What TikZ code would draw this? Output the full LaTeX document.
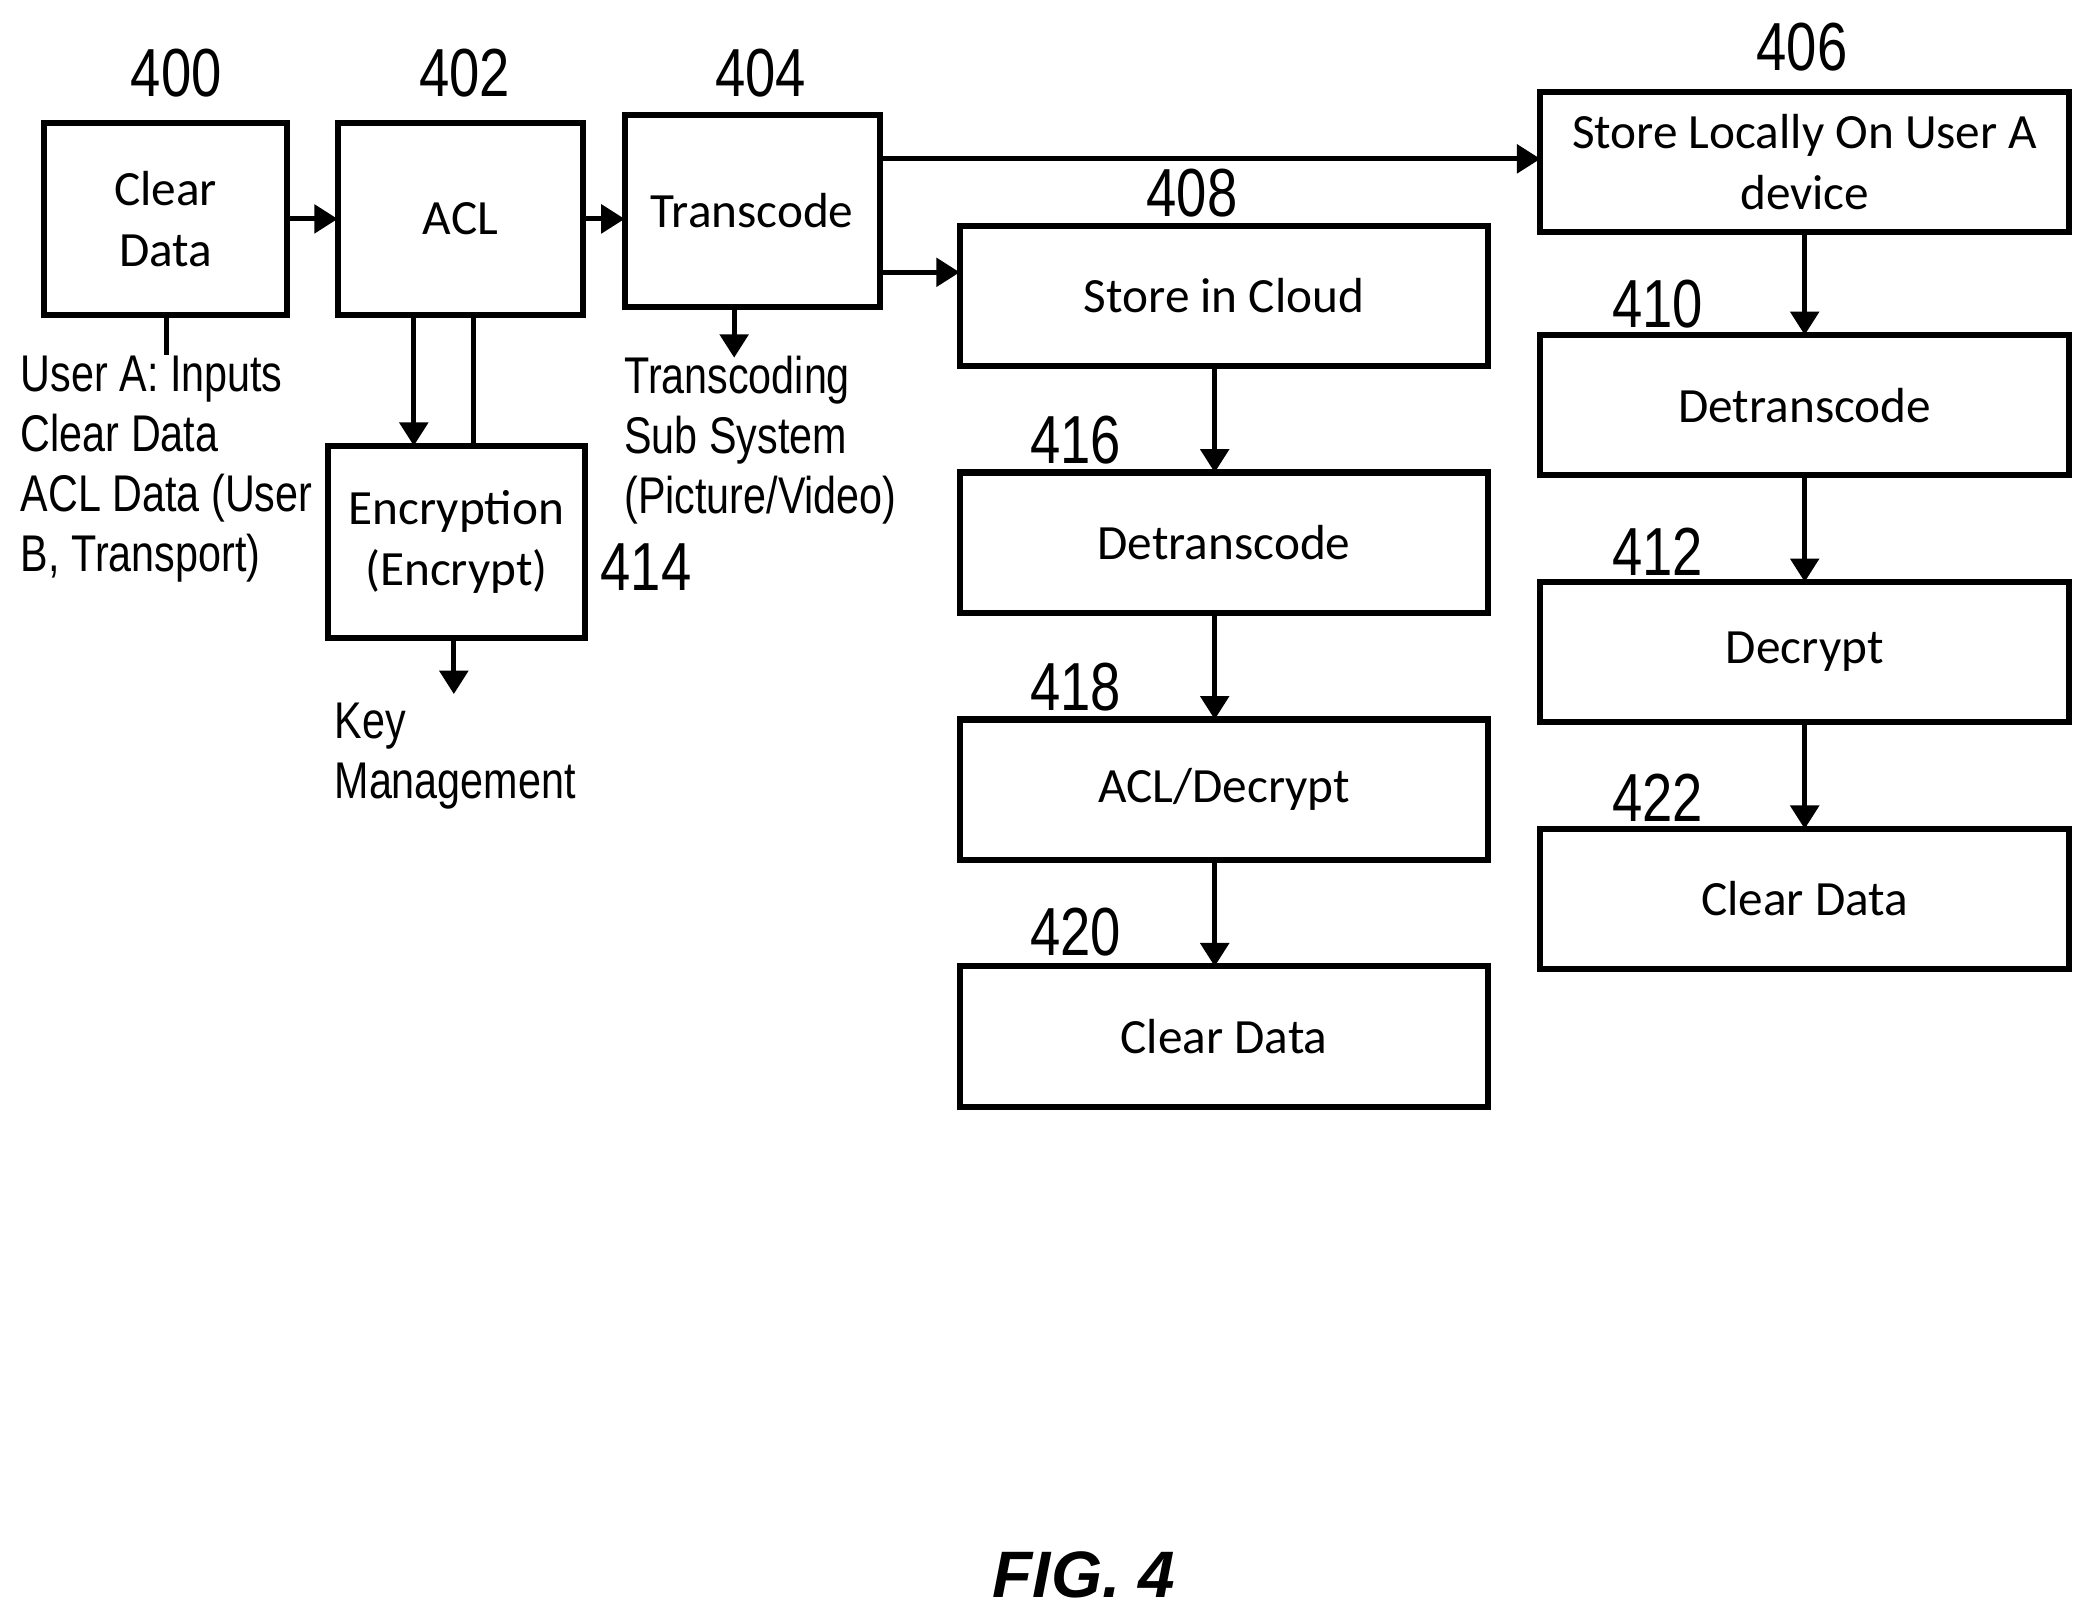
\documentclass[tikz,border=0pt]{standalone}
\usepackage{fontspec}
\setmainfont{Carlito}
\newfontfamily\narrowf[FakeStretch=0.8]{Liberation Sans}
\newfontfamily\figf{Liberation Sans}
\usetikzlibrary{positioning, arrows.meta, calc}

\begin{document}
\begin{tikzpicture}[
  font=\fontsize{10.5}{13}\selectfont,
  >={Triangle[length=5pt,width=6pt]}
]
% -------------------- Styles --------------------
\tikzset{
  block/.style={
    draw, line width=1.3pt, anchor=north west,
    align=center, inner sep=2pt, outer sep=0pt
  },
  arrow/.style={->, line width=1.1pt},
  line/.style={line width=1.1pt},
  ref/.style={font=\narrowf\fontsize{14.5}{16}\selectfont},
  note/.style={font=\narrowf\fontsize{11}{12.8}\selectfont,
    anchor=north west, align=left, inner sep=0pt}
}
\useasboundingbox (0,0) rectangle (15.68,-12.12);

% -------------------- Left row --------------------
\node[block, minimum width=1.82cm, minimum height=1.44cm] (clear) at (0.33,-0.92) {Clear\\Data};
\node[block, minimum width=1.84cm, minimum height=1.44cm] (acl) at (2.53,-0.92) {ACL};
\node[block, minimum width=1.91cm, minimum height=1.44cm] (trans) at (4.68,-0.86) {Transcode};
\node[block, minimum width=1.92cm, minimum height=1.44cm] (enc) at (2.46,-3.34) {Encryption\\(Encrypt)};

% -------------------- Cloud column --------------------
\node[block, minimum width=3.96cm, minimum height=1.05cm] (cloud) at (7.19,-1.69) {Store in Cloud};
\node[block, minimum width=3.96cm, minimum height=1.05cm] (cdetr) at (7.19,-3.54) {Detranscode};
\node[block, minimum width=3.96cm, minimum height=1.05cm] (cdec) at (7.19,-5.39) {ACL/Decrypt};
\node[block, minimum width=3.96cm, minimum height=1.05cm] (cclear) at (7.19,-7.24) {Clear Data};

% -------------------- Local column --------------------
\node[block, minimum width=3.96cm, minimum height=1.05cm] (local) at (11.54,-0.69) {Store Locally On User A\\device};
\node[block, minimum width=3.96cm, minimum height=1.05cm] (ldetr) at (11.54,-2.51) {Detranscode};
\node[block, minimum width=3.96cm, minimum height=1.05cm] (ldec) at (11.54,-4.36) {Decrypt};
\node[block, minimum width=3.96cm, minimum height=1.05cm] (lclear) at (11.54,-6.21) {Clear Data};

% -------------------- Reference numbers --------------------
\node[ref] (n400) at (1.32,-0.55) {400};
\node[ref] (n402) at (3.48,-0.55) {402};
\node[ref] (n404) at (5.70,-0.55) {404};
\node[ref] (n406) at (13.50,-0.35) {406};
\node[ref] (n408) at (8.93,-1.45) {408};
\node[ref] (n416) at (8.06,-3.30) {416};
\node[ref] (n418) at (8.06,-5.15) {418};
\node[ref] (n420) at (8.06,-6.98) {420};
\node[ref] (n410) at (12.42,-2.28) {410};
\node[ref] (n412) at (12.42,-4.13) {412};
\node[ref] (n422) at (12.42,-5.98) {422};
\node[ref] (n414) at (4.84,-4.25) {414};

% -------------------- Notes --------------------
\node[note] (user) at (0.15,-2.66) {User A: Inputs\\Clear Data\\ACL Data (User\\B, Transport)};
\node[note] (tsub) at (4.67,-2.66) {Transcoding\\Sub System\\(Picture/Video)};
\node[note] (key) at (2.50,-5.26) {Key\\Management};
\node[font=\figf\bfseries\itshape\fontsize{14}{16}\selectfont] (fig) at (8.12,-11.80) {FIG. 4};

% -------------------- Connectors --------------------
\coordinate (xa) at (3.10,0);
\coordinate (xb) at (3.55,0);
\coordinate (xc) at (5.50,0);
\coordinate (xd) at (3.40,0);
\coordinate (xe) at (1.25,0);
\coordinate (ya) at (0,-1.19);
\coordinate (yb) at (0,-2.04);

\draw[arrow] (clear) -- (acl);
\draw[arrow] (acl.east |- clear) -- (trans.west |- clear);
\draw[arrow] (trans.east |- ya) -- (local.west |- ya);
\draw[arrow] (trans.east |- yb) -- (cloud.west |- yb);
\draw[arrow] (acl.south -| xa) -- (enc.north -| xa);
\draw[line] (acl.south -| xb) -- (enc.north -| xb);
\draw[line] (clear.south -| xe) -- (user.north -| xe);
\draw[arrow] (trans.south -| xc) -- ($(trans.south -| xc)+(0,-0.38)$);
\draw[arrow] (enc.south -| xd) -- ($(enc.south -| xd)+(0,-0.42)$);

\foreach \a/\b in {cloud/cdetr, cdetr/cdec, cdec/cclear}
  \draw[arrow] ($(\a.south)+(-0.07,0)$) -- ($(\b.north)+(-0.07,0)$);
\foreach \a/\b in {local/ldetr, ldetr/ldec, ldec/lclear}
  \draw[arrow] (\a) -- (\b);

\end{tikzpicture}
\end{document}
